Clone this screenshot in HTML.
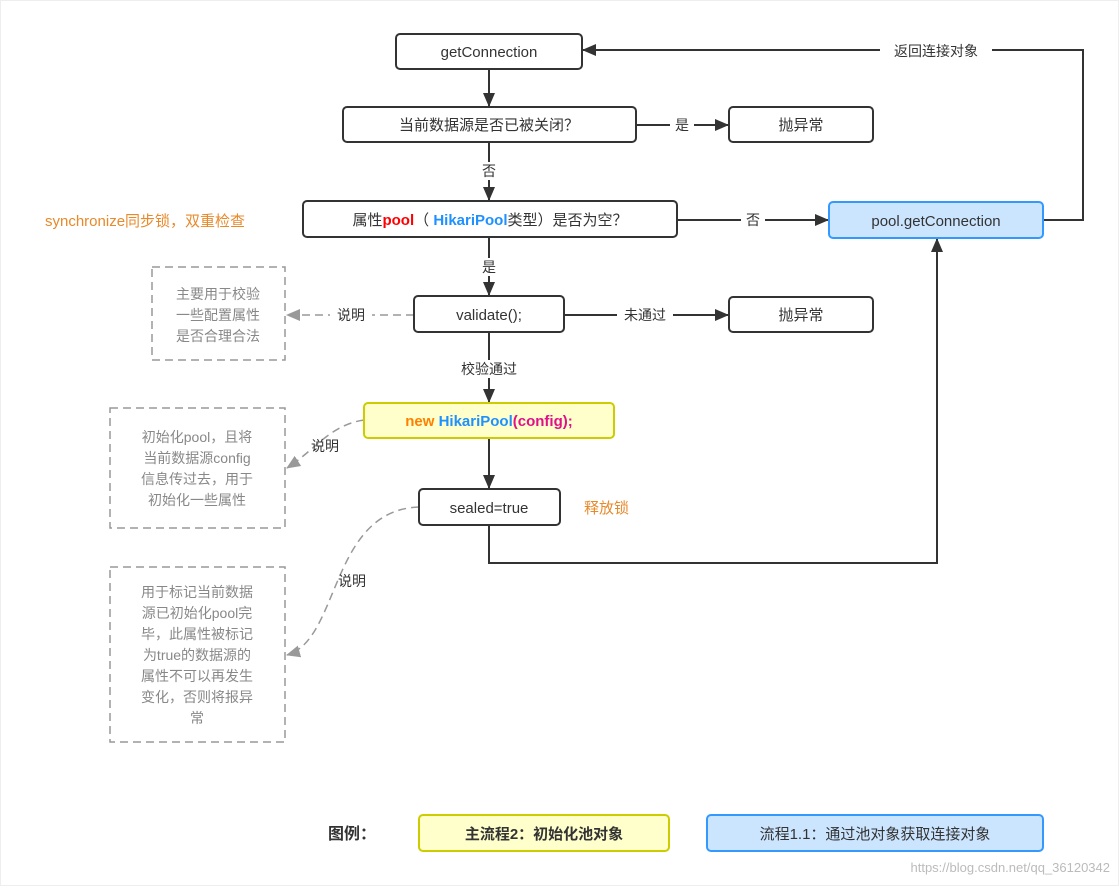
<!DOCTYPE html>
<html><head><meta charset="utf-8"><style>
body{margin:0;background:#fff;}
svg text{font-family:"Liberation Sans","Noto Sans CJK SC",sans-serif;}
</style></head><body>
<svg width="1119" height="886" xmlns="http://www.w3.org/2000/svg">
<defs>
<marker id="a" markerWidth="14" markerHeight="14" refX="13" refY="7" orient="auto" markerUnits="userSpaceOnUse"><path d="M0,1 L14,7 L0,13 z" fill="#333"/></marker>
<marker id="g" markerWidth="14" markerHeight="14" refX="13" refY="7" orient="auto" markerUnits="userSpaceOnUse"><path d="M0,1 L14,7 L0,13 z" fill="#999"/></marker>
</defs>
<rect x="0.5" y="0.5" width="1118" height="885" fill="#fff" stroke="#eee"/>
<g stroke="#333" stroke-width="2" fill="none">
<line x1="489" y1="69" x2="489" y2="106" marker-end="url(#a)"/>
<line x1="489" y1="142" x2="489" y2="200" marker-end="url(#a)"/>
<line x1="636" y1="125" x2="728" y2="125" marker-end="url(#a)"/>
<line x1="677" y1="220" x2="828" y2="220" marker-end="url(#a)"/>
<line x1="489" y1="237" x2="489" y2="295" marker-end="url(#a)"/>
<line x1="564" y1="315" x2="728" y2="315" marker-end="url(#a)"/>
<line x1="489" y1="332" x2="489" y2="402" marker-end="url(#a)"/>
<line x1="489" y1="438" x2="489" y2="488" marker-end="url(#a)"/>
<polyline points="489,525 489,563 937,563 937,239" marker-end="url(#a)"/>
<polyline points="1043,220 1083,220 1083,50 583,50" marker-end="url(#a)"/>
</g>
<g stroke="#999" stroke-width="1.5" fill="none" stroke-dasharray="8,5">
<line x1="414" y1="315" x2="287" y2="315" marker-end="url(#g)"/>
<path d="M364,420 C330,425 315,450 287,468" marker-end="url(#g)"/>
<path d="M419,507 C330,510 340,640 287,655" marker-end="url(#g)"/>
<rect x="152" y="267" width="133" height="93"/>
<rect x="110" y="408" width="175" height="120"/>
<rect x="110" y="567" width="175" height="175"/>
</g>
<g stroke="#333" stroke-width="2" fill="#fff">
<rect x="396" y="34" width="186" height="35" rx="4"/>
<rect x="343" y="107" width="293" height="35" rx="4"/>
<rect x="729" y="107" width="144" height="35" rx="4"/>
<rect x="303" y="201" width="374" height="36" rx="4"/>
<rect x="414" y="296" width="150" height="36" rx="4"/>
<rect x="729" y="297" width="144" height="35" rx="4"/>
<rect x="419" y="489" width="141" height="36" rx="4"/>
</g>
<rect x="829" y="202" width="214" height="36" rx="4" fill="#cce5ff" stroke="#3399ff" stroke-width="2"/>
<rect x="364" y="403" width="250" height="35" rx="4" fill="#ffffcc" stroke="#cccc00" stroke-width="2"/>
<rect x="419" y="815" width="250" height="36" rx="4" fill="#ffffcc" stroke="#cccc00" stroke-width="2"/>
<rect x="707" y="815" width="336" height="36" rx="4" fill="#cce5ff" stroke="#3399ff" stroke-width="2"/>
<g font-size="15" fill="#333" text-anchor="middle">
<text x="489" y="57">getConnection</text>
<text x="489" y="130">当前数据源是否已被关闭？</text>
<text x="801" y="130">抛异常</text>
<text x="490" y="225">属性<tspan fill="#ff0000" font-weight="bold">pool</tspan>（ <tspan fill="#1e90ff" font-weight="bold">HikariPool</tspan>类型）是否为空？</text>
<text x="936" y="226">pool.getConnection</text>
<text x="489" y="320">validate();</text>
<text x="801" y="320">抛异常</text>
<text x="489" y="426" font-weight="bold"><tspan fill="#ff8000">new </tspan><tspan fill="#1e90ff">HikariPool</tspan><tspan fill="#e0108a">(config);</tspan></text>
<text x="489" y="513">sealed=true</text>
</g>
<g font-size="14" fill="#333" text-anchor="middle">
<rect x="670" y="116" width="24" height="18" fill="#fff"/><text x="682" y="130">是</text>
<rect x="478" y="162" width="22" height="18" fill="#fff"/><text x="489" y="176">否</text>
<rect x="741" y="211" width="24" height="18" fill="#fff"/><text x="753" y="225">否</text>
<rect x="478" y="258" width="22" height="18" fill="#fff"/><text x="489" y="272">是</text>
<rect x="617" y="306" width="56" height="18" fill="#fff"/><text x="645" y="320">未通过</text>
<rect x="455" y="360" width="68" height="18" fill="#fff"/><text x="489" y="374">校验通过</text>
<rect x="880" y="42" width="112" height="18" fill="#fff"/><text x="936" y="56">返回连接对象</text>
<rect x="330" y="306" width="42" height="18" fill="#fff"/><text x="351" y="320">说明</text>
<text x="325" y="451">说明</text>
<text x="352" y="586">说明</text>
</g>
<g font-size="14" fill="#888" text-anchor="middle">
<text x="218" y="299">主要用于校验</text><text x="218" y="320">一些配置属性</text><text x="218" y="341">是否合理合法</text>
<text x="197" y="442">初始化pool，且将</text><text x="197" y="463">当前数据源config</text><text x="197" y="484">信息传过去，用于</text><text x="197" y="505">初始化一些属性</text>
<text x="197" y="597">用于标记当前数据</text><text x="197" y="618">源已初始化pool完</text><text x="197" y="639">毕，此属性被标记</text><text x="197" y="660">为true的数据源的</text><text x="197" y="681">属性不可以再发生</text><text x="197" y="702">变化，否则将报异</text><text x="197" y="723">常</text>
</g>
<g font-size="15" fill="#e8892a">
<text x="45" y="226">synchronize同步锁，双重检查</text>
<text x="584" y="513">释放锁</text>
</g>
<text x="328" y="839" font-size="16" font-weight="bold" fill="#333">图例：</text>
<text x="544" y="839" font-size="15" font-weight="bold" fill="#333" text-anchor="middle">主流程2：初始化池对象</text>
<text x="875" y="839" font-size="15" fill="#333" text-anchor="middle">流程1.1：通过池对象获取连接对象</text>
<text x="1110" y="872" font-size="13" fill="#bbb" text-anchor="end">https://blog.csdn.net/qq_36120342</text>
</svg>
</body></html>
